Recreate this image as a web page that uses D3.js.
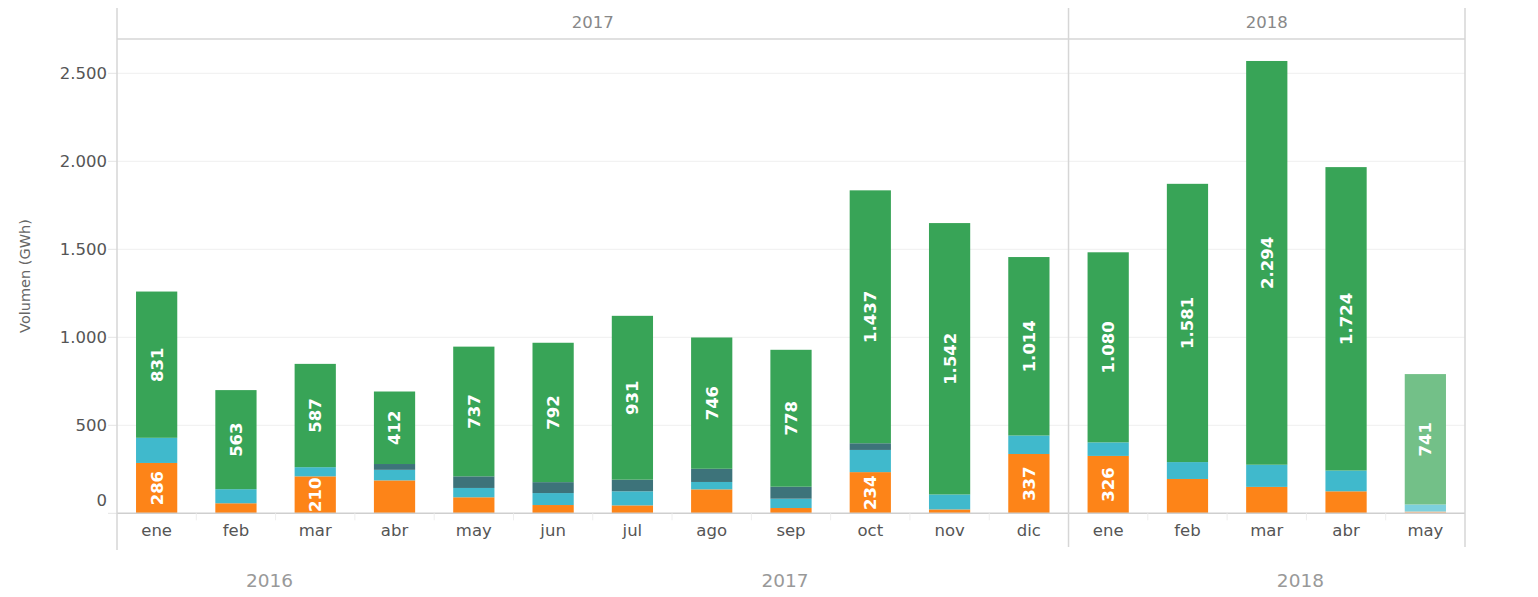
<!DOCTYPE html>
<html><head><meta charset="utf-8">
<script src="https://cdn.jsdelivr.net/npm/d3@7"></script>
<style>body{margin:0;background:#fff;}svg{display:block;font-family:"DejaVu Sans",Arial,sans-serif;}</style>
</head><body><svg id="c" width="1538" height="597"></svg>
<script>
const months = ["ene","feb","mar","abr","may","jun","jul","ago","sep","oct","nov","dic","ene","feb","mar","abr","may"];
const headerYears = ["2017","2017","2017","2017","2017","2017","2017","2017","2017","2017","2017","2017","2018","2018","2018","2018","2018"];
const bottomYears = ["2016","2016","2016","2016","2017","2017","2017","2017","2017","2017","2017","2017","2017","2018","2018","2018","2018"];
const orange = [286,57,210,187,91,47,45,136,30,234,22,337,326,195,150,125,10];
const lightBlue = [143,80,52,60,53,68,80,42,53,126,85,105,77,96,126,118,40];
const slate = [0,0,0,33,66,62,66,75,68,38,0,0,0,0,0,0,0];
const green = [831,563,587,412,737,792,931,746,778,1437,1542,1014,1080,1581,2294,1724,741];
const partial = [false,false,false,false,false,false,false,false,false,false,false,false,false,false,false,false,true];
const yTicks = [0,500,1000,1500,2000,2500];

(function(){
const fmt = d3.formatLocale({decimal:",",thousands:".",grouping:[3],currency:["","€"]}).format(",d");
const svg = d3.select("#c");
const L = 117, R = 1465, T = 39, base = 513.3;
const idx = months.map((m,i)=>i);
const x = d3.scaleBand().domain(idx).range([L,R]).paddingInner(0.48).paddingOuter(0.24);
const y = d3.scaleLinear().domain([0,2500]).range([base, base-440]);

const series = [
  {key:"orange", vals:orange, c:"#fd8418", cf:"#ffb47e"},
  {key:"lightBlue", vals:lightBlue, c:"#40b9cc", cf:"#7dd0dd"},
  {key:"slate", vals:slate, c:"#3d737a", cf:"#7fa5aa"},
  {key:"green", vals:green, c:"#38a457", cf:"#73c088"}
];

svg.append("g").selectAll("line").data(yTicks.filter(t=>t>0)).join("line")
  .attr("x1",L).attr("x2",R).attr("y1",d=>y(d)).attr("y2",d=>y(d))
  .attr("stroke","#efefef").attr("stroke-width",1);

const yg = svg.append("g");
yg.selectAll("line").data(yTicks).join("line")
  .attr("x1",L-9).attr("x2",L).attr("y1",d=>y(d)).attr("y2",d=>y(d)).attr("stroke","#e4e4e4");
yg.selectAll("text").data(yTicks).join("text")
  .attr("x",L-10).attr("y",d=>Math.min(y(d), base-13)).attr("dy","0.35em")
  .attr("text-anchor","end").attr("font-size",16.5).attr("fill","#555").text(d=>fmt(d));
svg.append("text").attr("transform",`translate(25,276) rotate(-90)`)
  .attr("text-anchor","middle").attr("dy","0.35em").attr("font-size",14.5).attr("fill","#666").text("Volumen (GWh)");

let cum = idx.map(()=>0);
series.forEach(s=>{
  const g = svg.append("g");
  idx.forEach(i=>{
    const v = s.vals[i]; const y0 = cum[i]; const y1 = y0+v; cum[i]=y1;
    if(v<=0) return;
    g.append("rect").attr("x",x(i)).attr("width",x.bandwidth())
      .attr("y",y(y1)).attr("height",y(y0)-y(y1))
      .attr("fill", partial[i]?s.cf:s.c);
    const show = s.key==="green" || (s.key==="orange" && v>=200);
    if(show){
      const cx = x(i)+x.bandwidth()/2, cy = (y(y0)+y(y1))/2;
      g.append("text").attr("transform",`translate(${cx},${cy}) rotate(-90)`)
        .attr("text-anchor","middle").attr("dy","0.36em")
        .attr("font-size",16.5).attr("font-weight","bold").attr("fill","#fff").text(fmt(v));
    }
  });
});

svg.append("line").attr("x1",L).attr("x2",R).attr("y1",base).attr("y2",base).attr("stroke","#cfcfcf").attr("stroke-width",1.5);
svg.append("g").selectAll("line").data(idx.slice(1)).join("line")
  .attr("x1",i=>x(i)-x.step()*x.paddingInner()/2).attr("x2",i=>x(i)-x.step()*x.paddingInner()/2)
  .attr("y1",base).attr("y2",base+7).attr("stroke","#eeeeee");
svg.append("g").selectAll("text").data(idx).join("text")
  .attr("x",i=>x(i)+x.bandwidth()/2).attr("y",base+23).attr("text-anchor","middle")
  .attr("font-size",16.5).attr("fill","#555").text(i=>months[i]);

const hdr = d3.groups(idx, i=>headerYears[i]);
const bands = hdr.map(([yr,ii])=>({yr, x0:x(ii[0])-x.step()*x.paddingOuter(), x1:x(ii[ii.length-1])+x.bandwidth()+x.step()*x.paddingOuter()}));
svg.append("line").attr("x1",L).attr("x2",R).attr("y1",T).attr("y2",T).attr("stroke","#d6d6d6").attr("stroke-width",1.5);
const seps = [L, ...bands.slice(1).map(b=>b.x0), R];
svg.append("g").selectAll("line").data(seps).join("line")
  .attr("x1",d=>d).attr("x2",d=>d).attr("y1",8).attr("y2",(d,i)=>i===0?550:547)
  .attr("stroke","#d6d6d6").attr("stroke-width",1.5);
svg.append("g").selectAll("text").data(bands).join("text")
  .attr("x",d=>(d.x0+d.x1)/2).attr("y",28).attr("text-anchor","middle")
  .attr("font-size",16.5).attr("fill","#888").text(d=>d.yr);

const bot = d3.groups(idx, i=>bottomYears[i]);
svg.append("g").selectAll("text").data(bot).join("text")
  .attr("x",([yr,ii])=>(x(ii[0])-x.step()*x.paddingInner()/2 + x(ii[ii.length-1])+x.bandwidth()+x.step()*x.paddingInner()/2)/2 - 6)
  .attr("y",587).attr("text-anchor","middle").attr("font-size",18.5).attr("fill","#999").text(d=>d[0]);
})();
</script></body></html>
